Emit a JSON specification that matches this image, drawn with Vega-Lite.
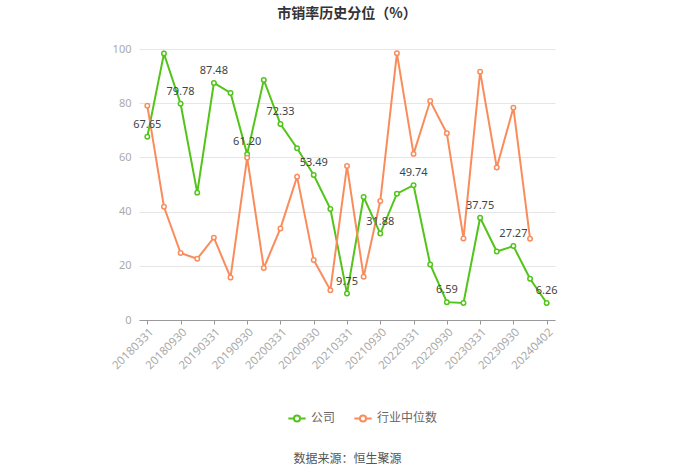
{
  "$schema": "https://vega.github.io/schema/vega-lite/v6.json",
  "width": 416,
  "height": 271,
  "autosize": {"type": "none"},
  "padding": {"left": 139, "top": 49, "right": 145, "bottom": 153},
  "background": "white",
  "config": {
    "font": "Noto Sans CJK SC",
    "view": {"stroke": null}
  },
  "title": {
    "text": "市销率历史分位（%）",
    "fontSize": 14,
    "fontWeight": "bold",
    "color": "#333333",
    "anchor": "middle",
    "offset": 22
  },
  "data": {
    "values": [
      {"date": "20180331", "series": "公司", "value": 67.65},
      {"date": "20180630", "series": "公司", "value": 98.3},
      {"date": "20180930", "series": "公司", "value": 79.78},
      {"date": "20181231", "series": "公司", "value": 47.0},
      {"date": "20190331", "series": "公司", "value": 87.48},
      {"date": "20190630", "series": "公司", "value": 83.8},
      {"date": "20190930", "series": "公司", "value": 61.20},
      {"date": "20191231", "series": "公司", "value": 88.6},
      {"date": "20200331", "series": "公司", "value": 72.33},
      {"date": "20200630", "series": "公司", "value": 63.4},
      {"date": "20200930", "series": "公司", "value": 53.49},
      {"date": "20201231", "series": "公司", "value": 41.0},
      {"date": "20210331", "series": "公司", "value": 9.75},
      {"date": "20210630", "series": "公司", "value": 45.4},
      {"date": "20210930", "series": "公司", "value": 31.88},
      {"date": "20211231", "series": "公司", "value": 46.6},
      {"date": "20220331", "series": "公司", "value": 49.74},
      {"date": "20220630", "series": "公司", "value": 20.5},
      {"date": "20220930", "series": "公司", "value": 6.59},
      {"date": "20221231", "series": "公司", "value": 6.3},
      {"date": "20230331", "series": "公司", "value": 37.75},
      {"date": "20230630", "series": "公司", "value": 25.3},
      {"date": "20230930", "series": "公司", "value": 27.27},
      {"date": "20231231", "series": "公司", "value": 15.2},
      {"date": "20240402", "series": "公司", "value": 6.26},
      {"date": "20180331", "series": "行业中位数", "value": 79.1},
      {"date": "20180630", "series": "行业中位数", "value": 41.8},
      {"date": "20180930", "series": "行业中位数", "value": 24.7},
      {"date": "20181231", "series": "行业中位数", "value": 22.6},
      {"date": "20190331", "series": "行业中位数", "value": 30.4},
      {"date": "20190630", "series": "行业中位数", "value": 15.7},
      {"date": "20190930", "series": "行业中位数", "value": 59.9},
      {"date": "20191231", "series": "行业中位数", "value": 19.2},
      {"date": "20200331", "series": "行业中位数", "value": 33.8},
      {"date": "20200630", "series": "行业中位数", "value": 52.9},
      {"date": "20200930", "series": "行业中位数", "value": 22.1},
      {"date": "20201231", "series": "行业中位数", "value": 11.0},
      {"date": "20210331", "series": "行业中位数", "value": 56.8},
      {"date": "20210630", "series": "行业中位数", "value": 16.0},
      {"date": "20210930", "series": "行业中位数", "value": 43.9},
      {"date": "20211231", "series": "行业中位数", "value": 98.4},
      {"date": "20220331", "series": "行业中位数", "value": 61.3},
      {"date": "20220630", "series": "行业中位数", "value": 80.8},
      {"date": "20220930", "series": "行业中位数", "value": 68.9},
      {"date": "20221231", "series": "行业中位数", "value": 30.1},
      {"date": "20230331", "series": "行业中位数", "value": 91.6},
      {"date": "20230630", "series": "行业中位数", "value": 56.3},
      {"date": "20230930", "series": "行业中位数", "value": 78.3},
      {"date": "20231231", "series": "行业中位数", "value": 30.0}
    ]
  },
  "encoding": {
    "x": {
      "field": "date",
      "type": "ordinal",
      "sort": null,
      "scale": {"type": "point", "padding": 0.5},
      "axis": {
        "values": ["20180331", "20180930", "20190331", "20190930", "20200331", "20200930", "20210331", "20210930", "20220331", "20220930", "20230331", "20230930", "20240402"],
        "labelAngle": -45,
        "labelColor": "#aaaaaa",
        "labelFontSize": 11.5,
        "labelFont": "Noto Sans",
        "labelPadding": 2,
        "domainColor": "#999999",
        "tickColor": "#999999",
        "tickSize": 4,
        "grid": false,
        "title": "数据来源：恒生聚源",
        "titleFontSize": 12,
        "titleFontWeight": "normal",
        "titleColor": "#555555",
        "titleY": 138,
        "titleBaseline": "middle"
      }
    },
    "y": {
      "field": "value",
      "type": "quantitative",
      "scale": {"domain": [0, 100]},
      "axis": {
        "values": [0, 20, 40, 60, 80, 100],
        "title": null,
        "domain": false,
        "ticks": false,
        "labelColor": "#aaaaaa",
        "labelFontSize": 11,
        "labelFont": "Noto Sans",
        "labelPadding": 8,
        "gridColor": "#e6e6e6"
      }
    }
  },
  "layer": [
    {
      "mark": {
        "type": "line",
        "strokeWidth": 2,
        "point": {"filled": false, "fill": "white", "size": 20, "strokeWidth": 1.5}
      },
      "encoding": {
        "color": {
          "field": "series",
          "type": "nominal",
          "sort": ["公司", "行业中位数"],
          "scale": {"domain": ["公司", "行业中位数"], "range": ["#52c41a", "#fa8c5c"]},
          "legend": {
            "orient": "none",
            "legendX": 148,
            "legendY": 359,
            "direction": "horizontal",
            "title": null,
            "symbolType": "M-1,0H-0.35M0.35,0H1M0.35,0A0.35,0.35,0,1,1,-0.35,0A0.35,0.35,0,1,1,0.35,0",
            "symbolSize": 300,
            "symbolStrokeWidth": 2,
            "symbolFillColor": "white",
            "labelFontSize": 12,
            "labelColor": "#666666",
            "columnPadding": 14
          }
        },
        "order": {"field": "date"}
      }
    },
    {
      "transform": [
        {"filter": {"field": "series", "equal": "公司"}},
        {"filter": {"field": "date", "oneOf": ["20180331", "20180930", "20190331", "20190930", "20200331", "20200930", "20210331", "20210930", "20220331", "20220930", "20230331", "20230930", "20240402"]}}
      ],
      "mark": {"type": "text", "dy": -12, "fontSize": 11, "color": "#444444", "font": "Noto Sans"},
      "encoding": {
        "text": {"field": "value", "type": "quantitative", "format": ".2f"}
      }
    }
  ]
}
